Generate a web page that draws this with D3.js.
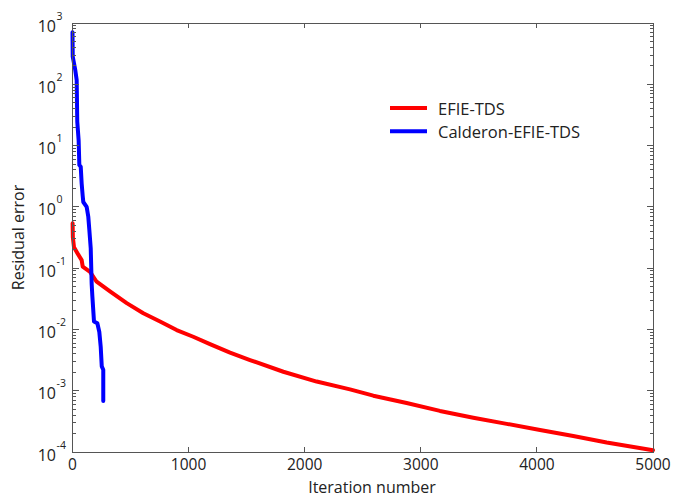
<!DOCTYPE html>
<html><head><meta charset="utf-8">
<script src="https://cdnjs.cloudflare.com/ajax/libs/d3/7.8.5/d3.min.js"></script>
<style>body{margin:0;background:#fff}svg{display:block;font-family:"Open Sans",sans-serif}</style>
</head><body><svg id="c" width="678" height="498"></svg>
<script>
const seriesNames = ["EFIE-TDS", "Calderon-EFIE-TDS"];
const seriesColors = ["#ff0000", "#0000ff"];
const efieIter = [1, 3, 13, 50, 79, 88, 151, 208, 323, 467, 610, 754, 897, 1040, 1184, 1357, 1529, 1816, 2103, 2390, 2591, 2878, 3165, 3452, 3740, 4027, 4313, 4601, 5000];
const efieResidual = [0.54, 0.32, 0.22, 0.166, 0.135, 0.106, 0.087, 0.06, 0.0417, 0.0269, 0.0184, 0.0135, 0.00977, 0.00759, 0.00575, 0.00417, 0.00316, 0.00204, 0.00141, 0.00105, 0.00083, 0.00063, 0.000468, 0.000363, 0.000288, 0.000229, 0.000182, 0.000143, 0.000107];
const caldIter = [0, 2, 24, 36, 41, 53, 59, 71, 79, 88, 93, 122, 136, 145, 157, 165, 171, 185, 214, 231, 243, 252, 265, 265];
const caldResidual = [708, 282, 170, 117, 24.5, 12, 4.8, 4.5, 2.4, 1.5, 1.2, 1.0, 0.69, 0.42, 0.21, 0.056, 0.035, 0.0135, 0.0126, 0.0091, 0.0052, 0.0025, 0.0022, 0.00068];
const xTicks = [0, 1000, 2000, 3000, 4000, 5000];
const yExponents = [-4, -3, -2, -1, 0, 1, 2, 3];
const xTitle = "Iteration number";
const yTitle = "Residual error";

const svg = d3.select("#c");
const L = 72.5, R = 653, T = 23, B = 452;
const x = d3.scaleLinear().domain([0, 5000]).range([L, R]);
const y = d3.scaleLog().domain([1e-4, 1e3]).range([B, T]);
const axisCol = "#555";

// data lines
const line = d3.line().x(d => x(d[0])).y(d => y(d[1]));
const series = [
  d3.zip(efieIter, efieResidual),
  d3.zip(caldIter, caldResidual)
];
series.forEach((s, i) => {
  svg.append("path").datum(s).attr("d", line).attr("fill", "none")
    .attr("stroke", seriesColors[i]).attr("stroke-width", 4)
    .attr("stroke-linejoin", "round").attr("stroke-linecap", "round");
});

// box
const g = svg.append("g").attr("stroke", axisCol).attr("fill", "none").attr("shape-rendering", "crispEdges");
g.append("rect").attr("x", L).attr("y", T).attr("width", R - L).attr("height", B - T).attr("stroke-width", 1);

// x ticks
xTicks.forEach(v => {
  const px = x(v);
  g.append("line").attr("x1", px).attr("x2", px).attr("y1", B).attr("y2", B - 5);
  g.append("line").attr("x1", px).attr("x2", px).attr("y1", T).attr("y2", T + 5);
});
// y ticks
yExponents.forEach(e => {
  const py = y(Math.pow(10, e));
  g.append("line").attr("x1", L).attr("x2", L + 6).attr("y1", py).attr("y2", py);
  g.append("line").attr("x1", R).attr("x2", R - 6).attr("y1", py).attr("y2", py);
  if (e < 3) {
    for (let m = 2; m <= 9; m++) {
      const pm = y(m * Math.pow(10, e));
      g.append("line").attr("x1", L).attr("x2", L + 3).attr("y1", pm).attr("y2", pm);
      g.append("line").attr("x1", R).attr("x2", R - 3).attr("y1", pm).attr("y2", pm);
    }
  }
});

// tick labels
const txt = svg.append("g").attr("fill", "#222");
xTicks.forEach(v => {
  txt.append("text").attr("x", x(v)).attr("y", 470).attr("text-anchor", "middle")
    .attr("font-size", 15.5).text(d3.format("d")(v));
});
yExponents.forEach(e => {
  const py = y(Math.pow(10, e));
  txt.append("text").attr("x", 56).attr("y", py + 8.5).attr("text-anchor", "end")
    .attr("font-size", 16).text("10");
  txt.append("text").attr("x", 56.5).attr("y", py - 3.5).attr("text-anchor", "start")
    .attr("font-size", 10.5).text(String(e));
});

// axis titles
txt.append("text").attr("x", 372).attr("y", 492.5).attr("text-anchor", "middle")
  .attr("font-size", 16).text(xTitle);
txt.append("text").attr("transform", `translate(24,${(T + B) / 2}) rotate(-90)`)
  .attr("text-anchor", "middle").attr("font-size", 16).text(yTitle);

// legend
seriesNames.forEach((n, i) => {
  const ly = 108 + i * 23.3;
  svg.append("line").attr("x1", 390).attr("x2", 427).attr("y1", ly).attr("y2", ly)
    .attr("stroke", seriesColors[i]).attr("stroke-width", 4);
  txt.append("text").attr("x", 438).attr("y", ly + 7).attr("font-size", 16.5).text(n);
});
</script></body></html>
